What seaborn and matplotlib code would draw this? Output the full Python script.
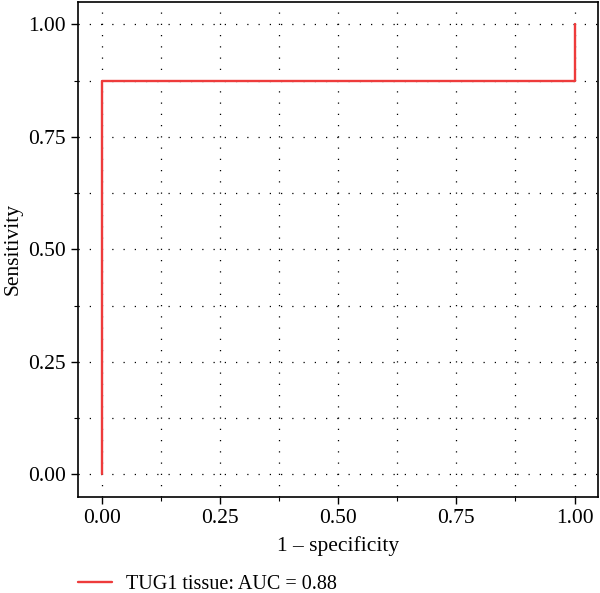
import matplotlib
matplotlib.use("Agg")
import matplotlib.pyplot as plt
from matplotlib.ticker import MultipleLocator
import seaborn as sns
import pandas as pd

fpr = [0.0, 0.0, 1.0, 1.0]
tpr = [0.0, 0.875, 0.875, 1.0]
label = "TUG1 tissue: AUC = 0.88"

sns.set_style("ticks")
plt.rcParams['font.family'] = ['Liberation Serif', 'DejaVu Serif']
plt.rcParams['text.color'] = 'black'
plt.rcParams['axes.labelcolor'] = 'black'
plt.rcParams['xtick.color'] = 'black'
plt.rcParams['ytick.color'] = 'black'

df = pd.DataFrame({"fpr": fpr, "tpr": tpr})

fig = plt.figure(figsize=(6, 5.93), dpi=100)
ax = fig.add_axes([0.13, 0.162, 0.867, 0.835])

sns.lineplot(data=df, x="fpr", y="tpr", sort=False, estimator=None,
             color="#ee3b3b", linewidth=1.7, label=label, ax=ax)

ax.set_xlim(-0.05, 1.05)
ax.set_ylim(-0.05, 1.05)
ax.xaxis.set_major_locator(MultipleLocator(0.25))
ax.yaxis.set_major_locator(MultipleLocator(0.25))
ax.xaxis.set_minor_locator(MultipleLocator(0.125))
ax.yaxis.set_minor_locator(MultipleLocator(0.125))
ax.xaxis.set_major_formatter(plt.FormatStrFormatter("%.2f"))
ax.yaxis.set_major_formatter(plt.FormatStrFormatter("%.2f"))
ax.grid(which="both", linestyle=(0, (1, 8)), color="black", linewidth=0.9)
ax.tick_params(which="major", labelsize=15.5, length=5, width=1)
ax.tick_params(which="minor", length=3, width=0.8)
for s in ax.spines.values():
    s.set_linewidth(1.2)
    s.set_color("black")

ax.set_xlabel("1 – specificity", fontsize=15.5, labelpad=6)
ax.set_ylabel("Sensitivity", fontsize=15.5)

ax.legend(loc="upper left", bbox_to_anchor=(0.0, -0.157), frameon=False,
          fontsize=14.5, handlelength=1.7, handletextpad=0.7,
          borderaxespad=0, borderpad=0)

fig.savefig("out.png", dpi=100)
